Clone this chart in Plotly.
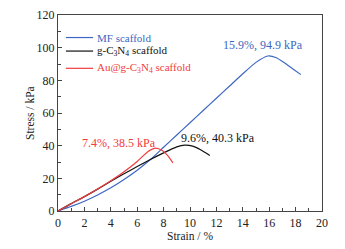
import plotly.graph_objects as go

# Data
mf_strain = [0, 1, 2, 3, 4, 5, 6, 7, 8, 9, 10, 11, 12, 13, 14, 15, 15.9, 16.5, 17.2, 17.8, 18.4]
mf_stress = [0, 2.8, 6, 9.8, 14.2, 19.3, 25, 31.5, 39, 46.5, 54, 61.5, 69, 76.5, 84, 91, 94.9, 94, 90.5, 87, 83.5]

gcn_strain = [0, 1, 2, 3, 4, 5, 6, 7, 8, 9, 9.6, 10.2, 10.8, 11.5]
gcn_stress = [0, 4.5, 8.8, 13.4, 18.2, 22.8, 27.2, 31.5, 35.6, 39.3, 40.3, 39.7, 37.5, 34]

au_strain = [0, 1, 2, 3, 4, 5, 6, 6.8, 7.4, 7.9, 8.3, 8.7]
au_stress = [0, 4.4, 8.8, 13.5, 18.5, 24, 30.3, 36.3, 38.5, 37, 34, 29.5]

series_names = ["MF scaffold", "g-C<sub>3</sub>N<sub>4</sub> scaffold", "Au@g-C<sub>3</sub>N<sub>4</sub> scaffold"]
colors = ["#3b67c2", "#111111", "#f23c3c"]

peak_strain = [15.9, 9.6, 7.4]
peak_stress = [94.9, 40.3, 38.5]

x_ticks = list(range(0, 21, 2))
y_ticks = list(range(0, 121, 20))

font_family = "Liberation Serif, Times New Roman, serif"

fig = go.Figure()
for xs, ys, name, c in [(mf_strain, mf_stress, series_names[0], colors[0]),
                        (gcn_strain, gcn_stress, series_names[1], colors[1]),
                        (au_strain, au_stress, series_names[2], colors[2])]:
    fig.add_trace(go.Scatter(x=xs, y=ys, mode="lines", name=name, showlegend=False,
                             line=dict(color=c, width=1.2, shape="spline", smoothing=0.6)))

# peak labels
label_dx = [-0.4, 2.5, -2.8]
label_dy = [11, 7, 5]
for px_, py_, c, dx, dy in zip(peak_strain, peak_stress, colors, label_dx, label_dy):
    fig.add_annotation(x=px_ + dx, y=py_, text=f"{px_}%, {py_} kPa", showarrow=False, yshift=dy,
                       font=dict(color=c, size=12, family=font_family))

# manual legend (coloured text)
legend_rows = [0.885, 0.816, 0.728]
for name, c, ly in zip(series_names, colors, legend_rows):
    fig.add_shape(type="line", xref="paper", yref="paper", x0=0.03, x1=0.133, y0=ly, y1=ly,
                  line=dict(color=c, width=1.2))
    fig.add_annotation(xref="paper", yref="paper", x=0.142, y=ly, xanchor="left", yanchor="middle",
                       text=name, showarrow=False, font=dict(color=c, size=11, family=font_family))

# y-axis title as a rotated annotation for precise placement
fig.add_annotation(xref="paper", yref="paper", x=-0.106, y=0.5, text="Stress / kPa", textangle=-90,
                   showarrow=False, xanchor="center", yanchor="middle",
                   font=dict(size=11.5, family=font_family, color="#222"))

axis_common = dict(showline=True, linecolor="#444", linewidth=1.2, mirror=True, automargin=False,
                   ticks="inside", ticklen=4, tickcolor="#444", showgrid=False, zeroline=False,
                   ticklabeloverflow="allow",
                   tickfont=dict(size=12, family=font_family, color="#222"))

# page body adds an 8px offset, so the figure is sized/margined to compensate
fig.update_layout(
    width=337, height=241,
    margin=dict(l=50, r=23, t=7, b=38),
    paper_bgcolor="white", plot_bgcolor="white",
    font=dict(family=font_family, color="#222"),
    showlegend=False,
    xaxis=dict(range=[0, 20], tickvals=x_ticks,
               title=dict(text="Strain / %", font=dict(size=11.5, family=font_family), standoff=3),
               minor=dict(ticks="inside", ticklen=2.5, tickcolor="#444", dtick=1), **axis_common),
    yaxis=dict(range=[0, 120], tickvals=y_ticks,
               minor=dict(ticks="inside", ticklen=2.5, tickcolor="#444", dtick=10), **axis_common),
)

fig.write_html("out.html")
